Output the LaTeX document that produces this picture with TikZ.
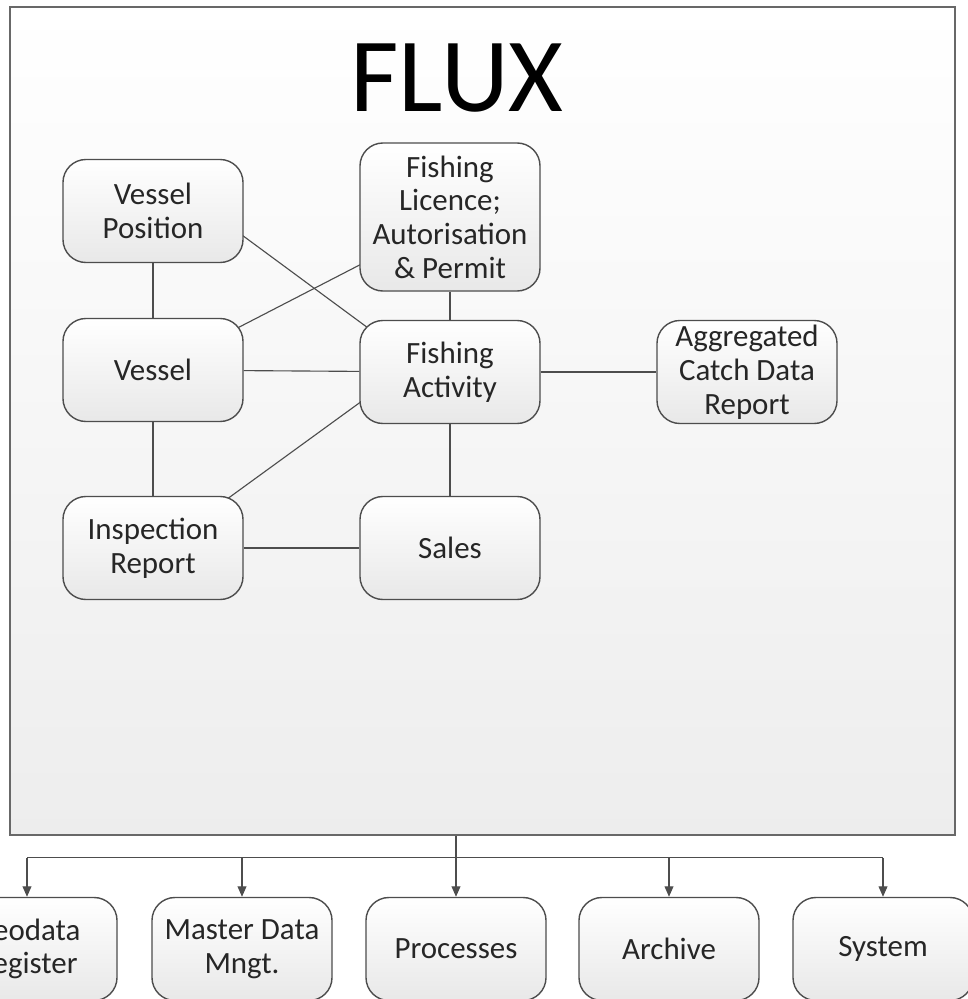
\documentclass[tikz,border=0pt]{standalone}
\usepackage{fontspec}
\setmainfont{Carlito}
\usetikzlibrary{arrows.meta,calc}
\pgfdeclarelayer{background}
\pgfsetlayers{background,main}
\definecolor{edge}{HTML}{4D4D4D}
\definecolor{ink}{HTML}{262626}
\begin{document}
\begin{tikzpicture}[x=0.025cm, y=-0.025cm,
    box/.style={draw=edge, line width=1pt, rounded corners=0.575cm,
        top color=white, bottom color=black!9, minimum width=4.5cm,
        minimum height=2.575cm, inner sep=0pt, align=center, text=ink,
        font=\fontsize{22}{24}\selectfont},
    fluxbox/.style={draw=edge!85, line width=1.1pt, top color=white,
        bottom color=black!7, minimum width=23.625cm, minimum height=20.7cm},
    link/.style={draw=edge, line width=0.8pt}]

    \useasboundingbox (0,0) rectangle (967,999);

    % title
    \node[text=black, font=\fontsize{75}{78}\selectfont] (title) at (457,78) {FLUX};

    % flux parts
    \node[box] (vp)    at (153,211) {Vessel\\Position};
    \node[box, minimum height=3.7cm] (fl) at (450,217) {Fishing\\Licence;\\Autorisation\\\& Permit};
    \node[box] (vessel) at (153,370) {Vessel};
    \node[box] (fa)    at (450,372) {Fishing\\Activity};
    \node[box] (acdr)  at (747,372) {Aggregated\\Catch Data\\Report};
    \node[box] (ir)    at (153,548) {Inspection\\Report};
    \node[box] (sales) at (450,548) {Sales};

    % outside
    \node[box] (geo)  at (27,949)  {Geodata\\Register};
    \node[box] (mdm)  at (242,949) {Master Data\\Mngt.};
    \node[box] (proc) at (456,949) {Processes};
    \node[box] (arch) at (669,949) {Archive};
    \node[box] (sys)  at (883,949) {System};

    \begin{pgfonlayer}{background}
        \node[fluxbox] (flux) at (482.5,421) {};

        % links
        \draw[link] (vp) -- (vessel);
        \draw[link] (vessel) -- (ir);
        \draw[link] (fl) -- (fa);
        \draw[link] (fa) -- (sales);
        \draw[link] (vessel) -- (fa);
        \draw[link] (fa) -- (acdr);
        \draw[link] (ir) -- (sales);
        \draw[link] ($(vp)+(74,13)$) -- ($(fa)+(-67,-33)$);
        \draw[link] ($(vessel)+(67,-33)$) -- ($(fl)+(-73,39)$);
        \draw[link] ($(ir)+(59,-38)$) -- ($(fa)+(-66,13)$);
    \end{pgfonlayer}

    % bus
    \coordinate (bus) at ($(proc.north |- flux.south)+(0,22)$);
    \draw[link] (proc.north |- flux.south) -- (bus);
    \draw[link] (bus -| geo.north) -- (bus -| sys.north);
    \foreach \n in {geo,mdm,proc,arch,sys}
        \draw[link, -{Triangle[length=0.26cm, width=0.22cm]}] (bus -| \n.north) -- (\n.north);

\end{tikzpicture}
\end{document}
